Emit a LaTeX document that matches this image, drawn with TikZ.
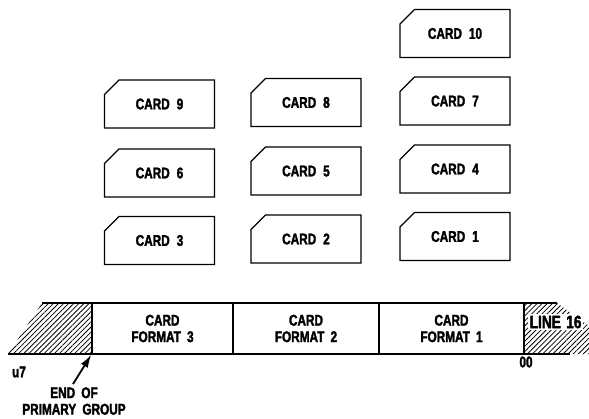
\documentclass[tikz,border=0pt]{standalone}
\usepackage{fontspec}
\setmainfont{Liberation Sans}[FakeStretch=0.76,BoldFeatures={FakeStretch=0.76,FakeBold=2}]
\usetikzlibrary{shapes.misc,patterns.meta,arrows.meta}
\begin{document}
\begin{tikzpicture}[x=1pt,y=-1pt,
  lbl/.style={font=\fontsize{15.5}{16.5}\selectfont\bfseries, inner sep=0pt, align=center},
  card/.style={lbl, draw, line width=1.4pt, shape=chamfered rectangle,
    chamfered rectangle corners=north west, chamfered rectangle xsep=9pt,
    chamfered rectangle ysep=9pt, minimum width=110pt, minimum height=48pt},
  cell/.style={lbl, draw, line width=1.4pt, minimum height=51pt},
  hatch/.style={pattern={Lines[angle=45,distance=3.6pt,line width=0.8pt]}},
  edge/.style={line width=1.4pt}]
\useasboundingbox (0,0) rectangle (589,418);
\clip (0,0) rectangle (589,418);
% cards
\node[card] (c10) at (455,33.5) {CARD\hspace{0.45em}10};
\node[card] (c7) at (455,101) {CARD\hspace{0.45em}7};
\node[card] (c4) at (455,169) {CARD\hspace{0.45em}4};
\node[card] (c1) at (455,236.5) {CARD\hspace{0.45em}1};
\node[card] (c9) at (159.5,104) {CARD\hspace{0.45em}9};
\node[card] (c6) at (159.5,173) {CARD\hspace{0.45em}6};
\node[card] (c3) at (159.5,240.5) {CARD\hspace{0.45em}3};
\node[card] (c8) at (306,102.5) {CARD\hspace{0.45em}8};
\node[card] (c5) at (306,171) {CARD\hspace{0.45em}5};
\node[card] (c2) at (306,239) {CARD\hspace{0.45em}2};
% strip
\fill[hatch] (42,303) -- (92,303) -- (92,354) -- (8,354) -- cycle;
\draw[edge] (42,303) -- (92,303);
\draw[edge] (8,354) -- (92,354);
\fill[hatch] (524,303) -- (557,303) -- (589,326) -- (589,354) -- (524,354) -- cycle;
\draw[edge] (524,303) -- (557,303);
\draw[edge] (524,354) -- (570,354);
\node[cell, minimum width=141pt] (f3) at (162.5,328.5) {CARD\\FORMAT\hspace{0.4em}3};
\node[cell, minimum width=146pt] (f2) at (306,328.5) {CARD\\FORMAT\hspace{0.4em}2};
\node[cell, minimum width=145pt] (f1) at (451.5,328.5) {CARD\\FORMAT\hspace{0.4em}1};
\node[lbl, font=\fontsize{18}{20}\selectfont\bfseries, fill=white, inner sep=1.5pt, anchor=west] (line) at (528,322) {LINE\hspace{0.3em}16};
% labels
\node[lbl] (u7) at (19,372) {u7};
\node[lbl] (oo) at (526,362) {00};
\node[lbl] (eop) at (74,401) {END\hspace{0.4em}OF\\PRIMARY\hspace{0.4em}GROUP};
\draw[line width=1.8pt, -{Latex[length=13pt,width=8pt]}] (eop.north) ++(-1,-3) -- (f3.south west);
\end{tikzpicture}
\end{document}
